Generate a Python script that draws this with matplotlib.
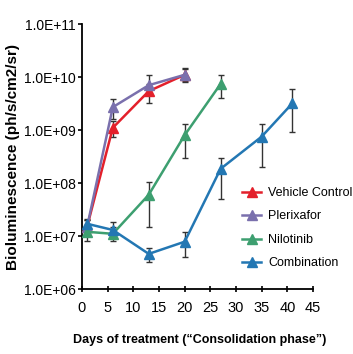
import numpy as np
import matplotlib.pyplot as plt
from matplotlib.ticker import FixedLocator, NullLocator

plt.rcParams['font.family'] = ['Liberation Sans', 'DejaVu Sans']

# data
veh_days = [1, 6, 13, 20]
veh = [1.5e7, 1.1e9, 5.4e9, 1.1e10]
veh_lo = [1.1e7, 7.5e8, 3.3e9, 8.5e9]
veh_hi = [2.0e7, 1.5e9, 7.5e9, 1.4e10]

plx_days = [1, 6, 13, 20]
plx = [1.5e7, 2.7e9, 7.0e9, 1.1e10]
plx_lo = [1.1e7, 1.6e9, 5.0e9, 8.0e9]
plx_hi = [2.0e7, 3.8e9, 1.1e10, 1.5e10]

nil_days = [1, 6, 13, 20, 27]
nil = [1.2e7, 1.1e7, 6.0e7, 8.0e8, 7.4e9]
nil_lo = [8.0e6, 8.0e6, 1.5e7, 3.0e8, 4.0e9]
nil_hi = [1.6e7, 1.5e7, 1.05e8, 1.3e9, 1.1e10]

com_days = [1, 6, 13, 20, 27, 35, 41]
com = [1.7e7, 1.3e7, 4.6e6, 7.8e6, 1.85e8, 7.5e8, 3.2e9]
com_lo = [1.3e7, 9.0e6, 3.3e6, 4.0e6, 5.0e7, 2.0e8, 9.0e8]
com_hi = [2.1e7, 1.8e7, 6.0e6, 1.2e7, 3.0e8, 1.3e9, 6.0e9]

ytick_labels = ["1.0E+06", "1.0E+07", "1.0E+08", "1.0E+09", "1.0E+10", "1.0E+11"]

fig = plt.figure(figsize=(3.53, 3.54), dpi=100)
ax = fig.add_axes([82/353, 1-289/354, 231/353, 265/354])

series = [
    ("Vehicle Control", veh_days, veh, veh_lo, veh_hi, "#e3202b"),
    ("Plerixafor", plx_days, plx, plx_lo, plx_hi, "#7a70ad"),
    ("Nilotinib", nil_days, nil, nil_lo, nil_hi, "#3d9f70"),
    ("Combination", com_days, com, com_lo, com_hi, "#2377b3"),
]

for name, d, v, lo, hi, c in series:
    v = np.array(v)
    err = [v - np.array(lo), np.array(hi) - v]
    ax.errorbar(d, v, yerr=err, fmt='none', ecolor='#333333', elinewidth=1.0,
                capsize=2.5, capthick=1.0, zorder=2)
    ax.plot(d, v, color=c, lw=1.8, marker='^', ms=6.5, label=name, zorder=3)

ax.set_yscale('log')
ax.set_ylim(1e6, 1e11)
ax.set_xlim(0, 45)
ax.yaxis.set_major_locator(FixedLocator([1e6, 1e7, 1e8, 1e9, 1e10, 1e11]))
ax.yaxis.set_minor_locator(NullLocator())
ax.set_yticklabels(ytick_labels)
ax.set_xticks(np.arange(0, 46, 5))

for s in ['top', 'right']:
    ax.spines[s].set_visible(False)
ax.spines['left'].set_linewidth(1.3)
ax.spines['bottom'].set_linewidth(1.3)
ax.tick_params(axis='y', direction='out', length=3, width=1.2, labelsize=10, pad=1.5)
ax.tick_params(axis='x', direction='inout', length=5, width=1.2, labelsize=10.5, pad=6)

ax.set_ylabel("Bioluminescence (ph/s/cm2/sr)", fontsize=11, fontweight='bold')
ax.yaxis.set_label_coords(-0.27, 0.5)
ax.set_xlabel("Days of treatment (\u201cConsolidation phase\u201d)", fontsize=9,
              fontweight='bold')
ax.xaxis.set_label_coords(0.51, -0.17)

ax.legend(loc='upper left', bbox_to_anchor=(0.694, 0.385), frameon=False,
          fontsize=9, handlelength=1.5, handletextpad=0.55, labelspacing=0.92,
          borderaxespad=0, borderpad=0)

fig.savefig("out.png", dpi=100)
